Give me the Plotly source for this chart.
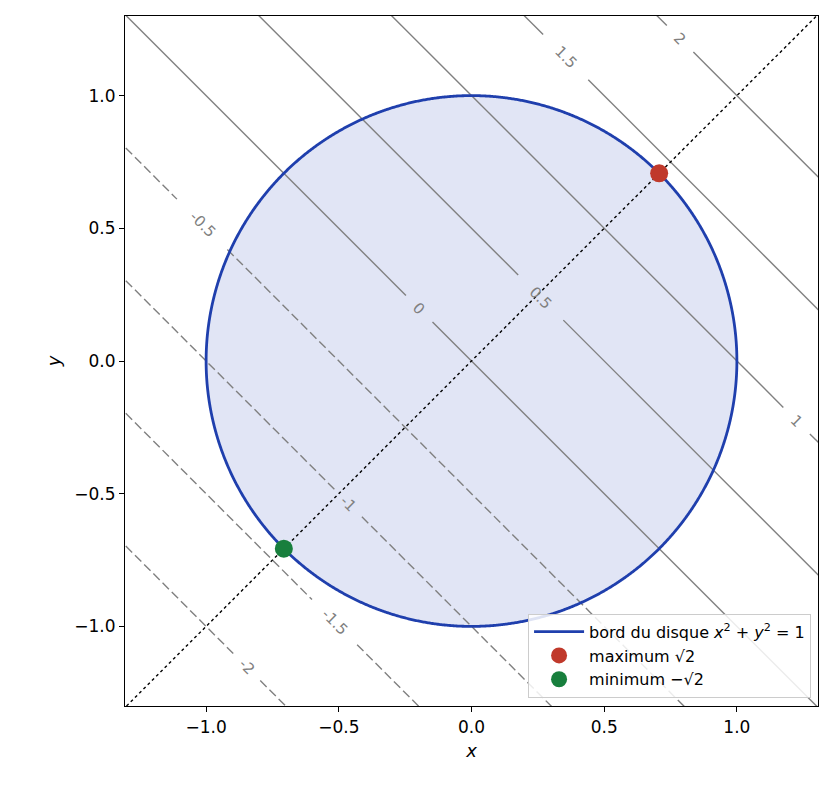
import numpy as np
import plotly.graph_objects as go

# niveaux de f(x, y) = x + y
levels = [-2, -1.5, -1, -0.5, 0, 0.5, 1, 1.5, 2]
level_labels = ["-2", "-1.5", "-1", "-0.5", "0", "0.5", "1", "1.5", "2"]
label_x = [-0.846, -0.516, -0.463, -1.015, -0.197, 0.261, 1.225, 0.355, 0.786]
label_gap = [0.05, 0.085, 0.05, 0.095, 0.05, 0.085, 0.05, 0.085, 0.05]
max_pt = (np.sqrt(2) / 2, np.sqrt(2) / 2)
min_pt = (-np.sqrt(2) / 2, -np.sqrt(2) / 2)
lim = 1.3

fig = go.Figure()

# disque
t = np.linspace(0, 2 * np.pi, 1500)
fig.add_trace(go.Scatter(x=np.cos(t), y=np.sin(t), mode="lines", fill="toself",
                         fillcolor="rgba(200,207,236,0.55)", line=dict(width=0, simplify=False),
                         hoverinfo="skip", showlegend=False))

# lignes de niveau avec trou pour l'étiquette
for c, lab, lx, g in zip(levels, level_labels, label_x, label_gap):
    dash = "9px,4px" if c < 0 else "solid"
    for a, b in [(-3, lx - g), (lx + g, 3)]:
        xs = np.array([a, b])
        fig.add_trace(go.Scatter(x=xs, y=c - xs, mode="lines",
                                 line=dict(color="#808080", width=1.4, dash=dash),
                                 hoverinfo="skip", showlegend=False))
    fig.add_annotation(x=lx, y=c - lx, text=lab, showarrow=False, textangle=45,
                       font=dict(size=15, color="#808080", family="DejaVu Sans"))

# droite y = x
d = np.array([-lim, lim])
fig.add_trace(go.Scatter(x=d, y=d, mode="lines", line=dict(color="black", width=1.4, dash="dot"),
                         hoverinfo="skip", showlegend=False))

fig.add_trace(go.Scatter(x=np.cos(t), y=np.sin(t), mode="lines",
                         line=dict(color="#1f3fad", width=2.8, simplify=False),
                         name="bord du disque <i>x</i><sup>2</sup> + <i>y</i><sup>2</sup> = 1"))
fig.add_trace(go.Scatter(x=[max_pt[0]], y=[max_pt[1]], mode="markers",
                         marker=dict(color="#c0392b", size=18), name="maximum √2"))
fig.add_trace(go.Scatter(x=[min_pt[0]], y=[min_pt[1]], mode="markers",
                         marker=dict(color="#187f3d", size=18), name="minimum −√2"))

ax = dict(range=[-lim, lim], showgrid=False, zeroline=False, showline=True, mirror=True,
          linecolor="black", linewidth=1.2, ticks="outside", ticklen=5, tickcolor="black",
          tickvals=[-1, -0.5, 0, 0.5, 1], ticktext=["−1.0", "−0.5", "0.0", "0.5", "1.0"],
          tickfont=dict(size=17, color="black"))
fig.update_layout(
    width=831, height=795, margin=dict(l=117, r=21, t=8, b=97),
    plot_bgcolor="white", paper_bgcolor="white",
    font=dict(family="DejaVu Sans", color="black"),
    xaxis=dict(ax, title=dict(text="<i>x</i>", font=dict(size=18), standoff=8)),
    yaxis=dict(ax, title=dict(text="<i>y</i>", font=dict(size=18), standoff=8),
               scaleanchor="x", scaleratio=1),
    legend=dict(x=0.99, y=0.012, xanchor="right", yanchor="bottom",
                bgcolor="rgba(255,255,255,0.85)", bordercolor="#cccccc", borderwidth=1,
                font=dict(size=16), itemwidth=50, tracegroupgap=4),
)

fig.write_html("out.html")
